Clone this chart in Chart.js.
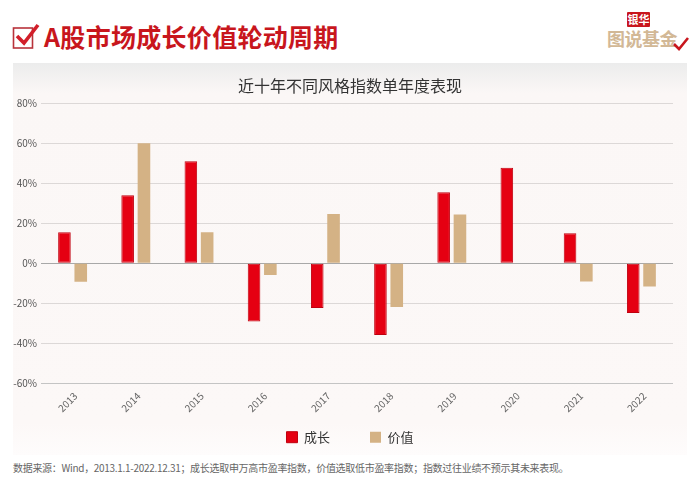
<!DOCTYPE html>
<html>
<head>
<meta charset="utf-8">
<script src="https://cdn.jsdelivr.net/npm/chart.js@4"></script>
<style>
  body { margin: 0; width: 700px; height: 486px; background: #fff; position: relative; overflow: hidden;
         font-family: "Noto Sans CJK SC", "Noto Sans", sans-serif; }
  .head-icon { position: absolute; left: 11px; top: 22px; }
  .head-title { position: absolute; left: 44px; top: 21px; font-size: 25px; line-height: 30px; font-weight: bold;
                color: #c8161d; letter-spacing: 0.3px; }
  .logo-top { position: absolute; left: 627px; top: 12px; width: 23px; height: 15px; background: #c8161d; color: #fff;
              font-size: 11px; font-weight: bold; line-height: 15px; text-align: center; border-radius: 1px; }
  .logo-bottom { position: absolute; left: 607px; top: 27px; font-size: 18px; line-height: 22px; color: #d2b896;
                 font-weight: bold; letter-spacing: -0.5px; }
  .logo-check { position: absolute; left: 672px; top: 36px; }
  .panel { position: absolute; left: 13px; top: 63px; width: 674px; height: 392px;
           background: linear-gradient(#ececec 0px, #fbf7f6 30px, #fcf8f7 360px, #fefcfc 392px); }
  #chart { position: absolute; left: 0; top: 63px; }
  .source { position: absolute; left: 13px; top: 461px; font-size: 10px; line-height: 14px; color: #666;
            letter-spacing: -0.3px; white-space: nowrap; }
</style>
</head>
<body>
<svg class="head-icon" width="30" height="30" viewBox="0 0 30 30">
  <rect x="2.5" y="6" width="19" height="20" fill="none" stroke="#b8333b" stroke-width="1.6"/>
  <polyline points="6,14 13,21 27,3" fill="none" stroke="#d21f2a" stroke-width="3.6"/>
</svg>
<div class="head-title">A股市场成长价值轮动周期</div>
<div class="logo-top">银华</div>
<div class="logo-bottom">图说基金</div>
<svg class="logo-check" width="18" height="16" viewBox="0 0 18 16">
  <polyline points="2,8 7,13 16,2" fill="none" stroke="#c8161d" stroke-width="2.6"/>
</svg>
<div class="panel"></div>
<canvas id="chart" width="700" height="392"></canvas>
<div class="source">数据来源：Wind，2013.1.1-2022.12.31；成长选取申万高市盈率指数，价值选取低市盈率指数；指数过往业绩不预示其未来表现。</div>

<script>
// chart data (annual return, %)
var years = ['2013', '2014', '2015', '2016', '2017', '2018', '2019', '2020', '2021', '2022'];
var seriesNames = ['成长', '价值'];
var growthValues = [15.5, 34, 51, -29.2, -22.5, -36, 35.5, 47.7, 15, -25];
var valueValues = [-9.3, 60, 15.5, -6, 24.6, -22, 24.3, 0, -9.2, -11.7];
var yMin = -60, yMax = 80, yStep = 20;

var fontFamily = '"Noto Sans CJK SC", "Noto Sans", sans-serif';

// keep title and legend centred on the whole canvas, and put the legend where the picture has it
var placeBoxes = {
  id: 'placeBoxes',
  beforeLayout: function(chart) {
    var lg = chart.legend;
    if (lg && !lg._patched) {
      var fit = lg.fit;
      lg.fit = function() { fit.call(this); this.height = 0; };
      lg._patched = true;
    }
  },
  afterLayout: function(chart) {
    var lg = chart.legend;
    lg.left = 0;
    lg.right = chart.width;
    lg.top = 327.7;
    lg.bottom = chart.height;
    chart.titleBlock.left = 0;
    chart.titleBlock.right = chart.width;
  }
};

var ctx = document.getElementById('chart').getContext('2d');
new Chart(ctx, {
  type: 'bar',
  data: {
    labels: years,
    datasets: [{
      label: seriesNames[0],
      data: growthValues,
      backgroundColor: '#e50012',
      borderColor: '#c0000f',
      borderWidth: 1,
      borderSkipped: false
    }, {
      label: seriesNames[1],
      data: valueValues,
      backgroundColor: '#d4b285',
      borderWidth: 0
    }]
  },
  options: {
    responsive: false,
    animation: false,
    layout: { padding: { left: 12, right: 27, top: 0, bottom: 22 } },
    datasets: { bar: { categoryPercentage: 0.516, barPercentage: 0.773 } },
    plugins: {
      title: {
        display: true,
        text: '近十年不同风格指数单年度表现',
        color: '#333',
        font: { size: 16, family: fontFamily, weight: 'normal' },
        padding: { top: 13.4, bottom: 7.7 }
      },
      legend: {
        position: 'bottom',
        labels: { boxWidth: 11, boxHeight: 11, padding: 40, color: '#333',
                  font: { size: 13, family: fontFamily } }
      },
      tooltip: { enabled: false }
    },
    scales: {
      x: {
        grid: { display: false },
        border: { display: false },
        ticks: { color: '#666', font: { size: 10, family: fontFamily }, minRotation: 45, maxRotation: 45,
                 labelOffset: 3, padding: -1 },
        afterFit: function(scale) { scale.height = 50; }
      },
      y: {
        min: yMin,
        max: yMax,
        grid: {
          drawTicks: false,
          color: function(c) { return c.tick.value === 0 ? '#a8a8a8' : (c.tick.value === yMin ? '#c4c4c4' : '#dcd8d7'); }
        },
        border: { display: false },
        ticks: { stepSize: yStep, padding: 4, color: '#555', font: { size: 10, family: fontFamily },
                 callback: function(v) { return v + '%'; } },
        afterFit: function(scale) { scale.width = 29; }
      }
    }
  },
  plugins: [placeBoxes]
});
</script>
</body>
</html>
